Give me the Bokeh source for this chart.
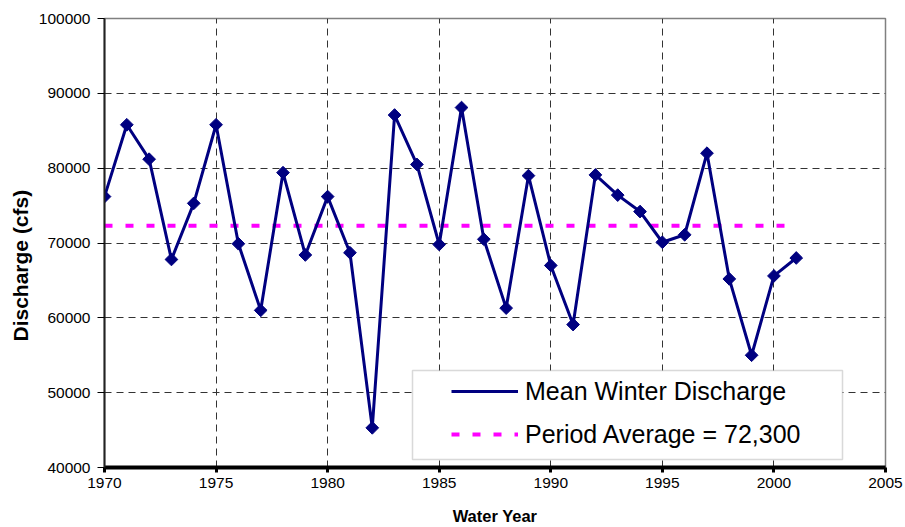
from bokeh.plotting import figure
from bokeh.models import (Legend, LegendItem, SingleIntervalTicker, Range1d,
                          BasicTickFormatter, BoxAnnotation, Title,
                          ColumnDataSource, CDSView, IndexFilter)
from bokeh.embed import file_html
from bokeh.resources import INLINE
import numpy as np

years = list(range(1970, 2002))
discharge = [76200, 85800, 81200, 67800, 75300, 85800, 69900, 61000, 79400, 68400,
             76200, 68700, 45300, 87100, 80500, 69800, 88100, 70500, 61300, 79000,
             67000, 59100, 79100, 76400, 74200, 70100, 71100, 82000, 65200, 55000,
             65600, 68000]
avg_value = 72300
avg_x = [years[0], years[-1]]
avg_y = [avg_value, avg_value]
x_title = "Water Year"
y_title = "Discharge (cfs)"
series_label = "Mean Winter Discharge"
avg_label = "Period Average = 72,300"

FONT = "Liberation Sans"
NAVY = "#000080"

p = figure(width=905, height=527, output_backend="svg", toolbar_location=None,
           x_range=Range1d(1970, 2005), y_range=Range1d(40000, 100000),
           min_border_left=104, min_border_right=20, min_border_top=18,
           min_border_bottom=59)
p.background_fill_color = "white"
p.border_fill_color = "white"
p.outline_line_color = "#808080"
p.outline_line_width = 1.5

src = ColumnDataSource(dict(year=years, q=discharge))
avg = p.line(avg_x, avg_y, line_color="#FF00FF", line_width=4, line_dash="8 13")
ln = p.line("year", "q", source=src, line_color=NAVY, line_width=3)
mk = p.scatter("year", "q", source=src, marker="square", angle=np.pi / 4, size=9,
               fill_color=NAVY, line_color=NAVY)
# legend-only diamond glyph: same source, nothing shown in the plot
leg_mk = p.scatter("year", "q", source=src, view=CDSView(filter=IndexFilter([])),
                   marker="diamond", size=17, fill_color=NAVY, line_color=NAVY)

p.xaxis.ticker = SingleIntervalTicker(interval=5)
p.yaxis.ticker = SingleIntervalTicker(interval=10000)
p.yaxis.formatter = BasicTickFormatter(use_scientific=False)
for ax in (p.xaxis[0], p.yaxis[0]):
    ax.minor_tick_line_color = None
    ax.major_tick_in = 0
    ax.major_tick_line_color = "black"
    ax.major_label_text_font = FONT
    ax.major_label_text_font_size = "15.5px"
    ax.major_label_text_color = "black"
    ax.axis_label_text_font = FONT
    ax.axis_label_text_font_style = "bold"
    ax.axis_label_text_font_size = "16.5px"
    ax.axis_label_text_color = "black"
p.xaxis.axis_line_width = 4
p.xaxis.axis_line_color = "black"
p.xaxis.major_tick_line_width = 3
p.xaxis.major_tick_out = 5
p.yaxis.axis_line_width = 2
p.yaxis.axis_line_color = "#222222"
p.yaxis.major_tick_line_width = 1
p.yaxis.major_tick_out = 7
p.xaxis.axis_label = x_title
p.xaxis.major_label_standoff = 5
p.xaxis.axis_label_standoff = 16
p.yaxis.major_label_standoff = 7

p.add_layout(Title(text=y_title, align="left", offset=126, standoff=8,
                   text_font=FONT, text_font_style="bold",
                   text_font_size="21px", text_color="black"), "left")

p.xgrid.grid_line_color = "#333333"
p.xgrid.grid_line_dash = "7 5"
p.ygrid.grid_line_color = "#333333"
p.ygrid.grid_line_dash = "7 5"

box = BoxAnnotation(left=308, right=738, top=97, bottom=8,
                    left_units="screen", right_units="screen",
                    top_units="screen", bottom_units="screen",
                    fill_color="white", fill_alpha=1.0,
                    line_color="#808080", line_width=1.5)
p.add_layout(box)

legend = Legend(items=[LegendItem(label=series_label, renderers=[ln, leg_mk]),
                       LegendItem(label=avg_label, renderers=[avg])],
                location=(341, 12), padding=6, spacing=13,
                glyph_width=67, glyph_height=30, label_height=30,
                label_standoff=7, label_text_font=FONT,
                label_text_font_size="25px", label_text_color="black",
                border_line_alpha=0, background_fill_alpha=0)
p.add_layout(legend)

open("out.html", "w").write(file_html(p, INLINE))
